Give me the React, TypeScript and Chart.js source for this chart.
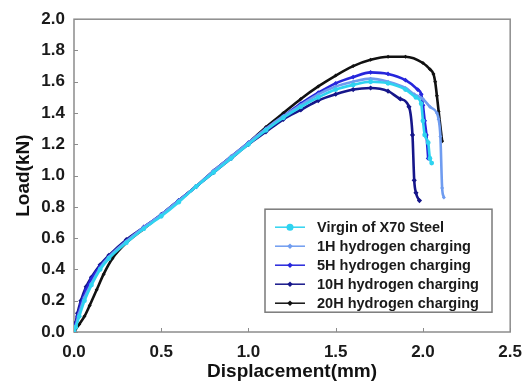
import React, { useEffect, useRef } from 'react';
import { Chart, registerables } from 'chart.js';

Chart.register(...registerables);

const FONT = '"Liberation Sans", Arial, Helvetica, sans-serif';

// ---------- data ----------
const seriesNames = [
  'Virgin of X70 Steel',
  '1H hydrogen charging',
  '5H hydrogen charging',
  '10H hydrogen charging',
  '20H hydrogen charging',
];

const virginX = [0, 0.01, 0.03, 0.06, 0.1, 0.15, 0.2, 0.3, 0.4, 0.5, 0.6, 0.7, 0.8, 0.9, 1.0, 1.1, 1.2, 1.3, 1.4, 1.5, 1.6, 1.7, 1.8, 1.9, 1.96, 1.99, 2.0, 2.01, 2.03, 2.04, 2.05];
const virginY = [0, 0.03, 0.1, 0.2, 0.3, 0.4, 0.47, 0.57, 0.66, 0.74, 0.83, 0.93, 1.02, 1.11, 1.2, 1.29, 1.37, 1.44, 1.5, 1.55, 1.58, 1.6, 1.59, 1.55, 1.5, 1.46, 1.35, 1.26, 1.21, 1.11, 1.08];

const h1X = [0, 0.01, 0.03, 0.06, 0.1, 0.15, 0.2, 0.3, 0.4, 0.5, 0.6, 0.7, 0.8, 0.9, 1.0, 1.1, 1.2, 1.3, 1.4, 1.5, 1.6, 1.7, 1.8, 1.9, 1.95, 2.0, 2.04, 2.08, 2.09, 2.1, 2.11, 2.12];
const h1Y = [0, 0.04, 0.12, 0.22, 0.31, 0.41, 0.48, 0.58, 0.67, 0.75, 0.84, 0.93, 1.03, 1.12, 1.21, 1.3, 1.38, 1.45, 1.52, 1.57, 1.6, 1.62, 1.6, 1.56, 1.52, 1.49, 1.44, 1.4, 1.36, 1.25, 0.92, 0.86];

const h5X = [0, 0.01, 0.02, 0.04, 0.07, 0.1, 0.15, 0.2, 0.3, 0.4, 0.5, 0.6, 0.7, 0.8, 0.9, 1.0, 1.1, 1.2, 1.3, 1.4, 1.5, 1.6, 1.7, 1.8, 1.9, 1.97, 1.99, 2.0, 2.01, 2.02, 2.03];
const h5Y = [0, 0.05, 0.1, 0.18, 0.27, 0.34, 0.42, 0.48, 0.58, 0.67, 0.75, 0.84, 0.93, 1.03, 1.12, 1.21, 1.3, 1.38, 1.46, 1.53, 1.59, 1.63, 1.66, 1.65, 1.61, 1.55, 1.52, 1.45, 1.35, 1.26, 1.11];

const h10X = [0, 0.01, 0.02, 0.04, 0.07, 0.1, 0.15, 0.2, 0.3, 0.4, 0.5, 0.6, 0.7, 0.8, 0.9, 1.0, 1.1, 1.2, 1.3, 1.4, 1.5, 1.6, 1.7, 1.8, 1.87, 1.92, 1.94, 1.95, 1.96, 1.98];
const h10Y = [0, 0.06, 0.12, 0.2, 0.29, 0.35, 0.43, 0.49, 0.59, 0.67, 0.75, 0.84, 0.93, 1.02, 1.11, 1.2, 1.28, 1.36, 1.42, 1.48, 1.52, 1.55, 1.56, 1.54, 1.49, 1.44, 1.26, 0.97, 0.89, 0.84];

const h20X = [0, 0.03, 0.06, 0.09, 0.13, 0.17, 0.22, 0.3, 0.4, 0.5, 0.6, 0.7, 0.8, 0.9, 1.0, 1.1, 1.2, 1.3, 1.4, 1.5, 1.6, 1.7, 1.8, 1.9, 2.0, 2.04, 2.06, 2.07, 2.08, 2.09, 2.11];
const h20Y = [0, 0.05, 0.1, 0.17, 0.27, 0.37, 0.47, 0.57, 0.66, 0.75, 0.84, 0.93, 1.03, 1.12, 1.21, 1.31, 1.4, 1.49, 1.57, 1.64, 1.7, 1.74, 1.76, 1.76, 1.72, 1.68, 1.65, 1.6, 1.51, 1.41, 1.22];

const xTicksMax = 2.5;
const yTicksMax = 2.0;

// ---------- styles ----------
const colors = ['#2fd3f0', '#6f9cf0', '#2626dc', '#16168a', '#111111'];
const pointStyles = ['circle', 'rectRot', 'rectRot', 'rectRot', 'rectRot'];
const pointRadii = [2.4, 2, 2.4, 2.6, 2];

const toPoints = (xs: number[], ys: number[]) => xs.map((x, i) => ({ x, y: ys[i] }));
const seriesData = [
  toPoints(virginX, virginY),
  toPoints(h1X, h1Y),
  toPoints(h5X, h5Y),
  toPoints(h10X, h10Y),
  toPoints(h20X, h20Y),
];

function drawMarker(ctx: CanvasRenderingContext2D, style: string, x: number, y: number, r: number) {
  ctx.beginPath();
  if (style === 'circle') {
    ctx.arc(x, y, r, 0, Math.PI * 2);
  } else {
    ctx.moveTo(x, y - r);
    ctx.lineTo(x + r, y);
    ctx.lineTo(x, y + r);
    ctx.lineTo(x - r, y);
    ctx.closePath();
  }
  ctx.fill();
}

const framePlugin = {
  id: 'frameAndLegend',
  beforeDatasetsDraw(chart: any) {
    const { ctx, chartArea: a, scales } = chart;
    ctx.save();
    ctx.strokeStyle = '#8c8c8c';
    ctx.lineWidth = 1.5;
    ctx.strokeRect(a.left, a.top, a.right - a.left, a.bottom - a.top);
    ctx.lineWidth = 1;
    scales.y.ticks.forEach((t: any) => {
      const py = Math.round(scales.y.getPixelForValue(t.value)) + 0.5;
      ctx.beginPath();
      ctx.moveTo(a.left, py);
      ctx.lineTo(a.left + 4, py);
      ctx.stroke();
    });
    scales.x.ticks.forEach((t: any) => {
      const px = Math.round(scales.x.getPixelForValue(t.value)) + 0.5;
      ctx.beginPath();
      ctx.moveTo(px, a.bottom);
      ctx.lineTo(px, a.bottom - 4);
      ctx.stroke();
    });
    ctx.restore();
  },
  afterDraw(chart: any) {
    const { ctx, chartArea: a } = chart;
    const lx = a.left + 191;
    const ly = a.top + 190;
    const lw = 227;
    const lh = 103;
    ctx.save();
    ctx.fillStyle = '#ffffff';
    ctx.fillRect(lx, ly, lw, lh);
    ctx.strokeStyle = '#7a7a7a';
    ctx.lineWidth = 1.5;
    ctx.strokeRect(lx, ly, lw, lh);
    ctx.font = `bold 14.5px ${FONT}`;
    ctx.textBaseline = 'middle';
    seriesNames.forEach((name, i) => {
      const cy = ly + 18 + i * 19;
      ctx.strokeStyle = colors[i];
      ctx.lineWidth = 1.5;
      ctx.beginPath();
      ctx.moveTo(lx + 10, cy);
      ctx.lineTo(lx + 40, cy);
      ctx.stroke();
      ctx.fillStyle = colors[i];
      drawMarker(ctx, pointStyles[i], lx + 25, cy, i === 0 ? 3.5 : 2.8);
      ctx.fillStyle = '#1a1a1a';
      ctx.fillText(name, lx + 52, cy + 1);
    });
    ctx.restore();
  },
};

export default function App() {
  const ref = useRef<HTMLCanvasElement>(null);
  useEffect(() => {
    if (!ref.current) return;
    const chart = new Chart(ref.current, {
      type: 'line',
      data: {
        datasets: seriesData.map((d, i) => ({
          label: seriesNames[i],
          data: d,
          borderColor: colors[i],
          backgroundColor: colors[i],
          borderWidth: 2.6,
          pointStyle: pointStyles[i] as any,
          pointRadius: pointRadii[i],
          pointBorderWidth: 0,
          pointBackgroundColor: colors[i],
          cubicInterpolationMode: 'monotone' as const,
          fill: false,
        })),
      },
      options: {
        responsive: false,
        animation: false,
        layout: { padding: { top: 14, right: 19, left: 0, bottom: 0 } },
        plugins: {
          legend: { display: false },
          tooltip: { enabled: false },
        },
        scales: {
          x: {
            type: 'linear',
            min: 0,
            max: xTicksMax,
            afterFit: (s: any) => {
              s.height = 53;
            },
            grid: { display: false, drawTicks: false },
            border: { display: false },
            ticks: {
              stepSize: 0.5,
              padding: 10,
              color: '#1a1a1a',
              font: { family: FONT, size: 17, weight: 'bold' },
              callback: (v: any) => Number(v).toFixed(1),
              maxRotation: 0,
            },
            title: {
              display: true,
              text: 'Displacement(mm)',
              color: '#111',
              font: { family: FONT, size: 19, weight: 'bold' },
              padding: { top: 0, bottom: 2 },
            },
          },
          y: {
            type: 'linear',
            min: 0,
            max: yTicksMax,
            afterFit: (s: any) => {
              s.width = 74;
            },
            grid: { display: false, drawTicks: false },
            border: { display: false },
            ticks: {
              stepSize: 0.2,
              padding: 9,
              color: '#1a1a1a',
              font: { family: FONT, size: 17, weight: 'bold' },
              callback: (v: any) => Number(v).toFixed(1),
            },
            title: {
              display: true,
              text: 'Load(kN)',
              color: '#111',
              font: { family: FONT, size: 19, weight: 'bold' },
              padding: { top: 12, bottom: 0 },
            },
          },
        },
      },
      plugins: [framePlugin],
    });
    return () => chart.destroy();
  }, []);
  return (
    <div style={{ position: 'fixed', left: 0, top: 0, width: 532, height: 385, background: '#fff' }}>
      <canvas ref={ref} width={532} height={385} style={{ width: 532, height: 385, display: 'block' }} />
    </div>
  );
}
